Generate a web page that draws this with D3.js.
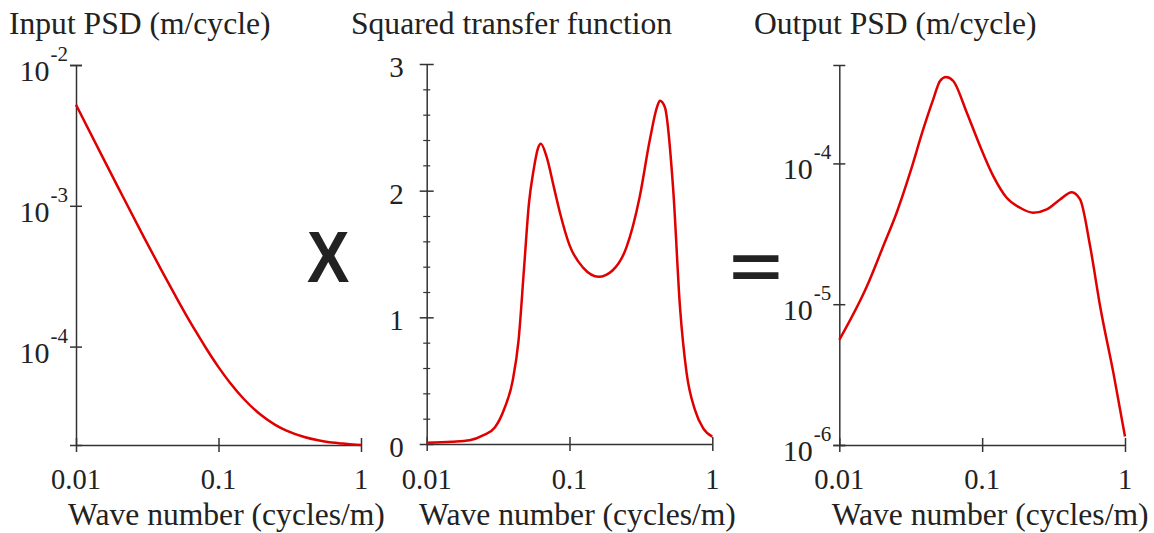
<!DOCTYPE html>
<html>
<head>
<meta charset="utf-8">
<script src="https://cdn.jsdelivr.net/npm/d3@7/dist/d3.min.js"></script>
<style>
  html, body { margin: 0; padding: 0; background: #fff; }
  svg { display: block; }
</style>
</head>
<body>
<svg id="chart" width="1154" height="533"></svg>
<script>
// Wave numbers (cycles/m) and values for each panel
const inputK   = [0.01, 0.015, 0.02, 0.03, 0.04, 0.05, 0.06, 0.07, 0.08, 0.1, 0.12, 0.15, 0.2, 0.25, 0.3, 0.4, 0.5, 0.6, 0.7, 0.8, 1.0];
const inputPsd = [5.22e-3, 2.33e-3, 1.32e-3, 5.97e-4, 3.45e-4, 2.28e-4, 1.64e-4, 1.26e-4, 1.01e-4, 7.15e-5, 5.56e-5, 4.26e-5, 3.25e-5, 2.78e-5, 2.53e-5, 2.28e-5, 2.16e-5, 2.09e-5, 2.06e-5, 2.03e-5, 2.0e-5];

const transferK   = [0.01, 0.015, 0.02, 0.025, 0.03, 0.035, 0.04, 0.044, 0.048, 0.052, 0.056, 0.06, 0.063, 0.069, 0.078, 0.086, 0.1, 0.125, 0.16, 0.2, 0.25, 0.31, 0.365, 0.41, 0.43, 0.465, 0.533, 0.594, 0.661, 0.756, 0.864, 1.0];
const transferVal = [0.01, 0.018, 0.03, 0.07, 0.13, 0.28, 0.5, 0.82, 1.38, 1.9, 2.16, 2.33, 2.37, 2.27, 2.02, 1.82, 1.57, 1.39, 1.32, 1.37, 1.55, 1.95, 2.4, 2.66, 2.71, 2.66, 2.0, 1.08, 0.56, 0.27, 0.124, 0.058];

const outputK   = [0.01, 0.0156, 0.0203, 0.0252, 0.0313, 0.0387, 0.0455, 0.0507, 0.0558, 0.0628, 0.078, 0.0966, 0.1197, 0.1485, 0.184, 0.228, 0.283, 0.351, 0.424, 0.485, 0.57, 0.67, 0.83, 1.0];
const outputPsd = [5.58e-6, 1.34e-5, 2.58e-5, 4.46e-5, 8.59e-5, 1.75e-4, 2.86e-4, 3.85e-4, 4.11e-4, 3.85e-4, 2.30e-4, 1.33e-4, 8.12e-5, 5.7e-5, 4.84e-5, 4.46e-5, 4.71e-5, 5.55e-5, 6.25e-5, 5.55e-5, 2.58e-5, 9.64e-6, 3.24e-6, 1.15e-6];

// Tick values and labels
const xTicks = [0.01, 0.1, 1];
const xTickLabels = ["0.01", "0.1", "1"];
const inputYTicks = [1e-2, 1e-3, 1e-4];
const inputYExponents = ["-2", "-3", "-4"];
const transferYTicks = [0, 1, 2, 3];
const transferYMinor = [0.2, 0.4, 0.6, 0.8, 1.2, 1.4, 1.6, 1.8, 2.2, 2.4, 2.6, 2.8];
const outputYTicks = [1e-4, 1e-5, 1e-6];
const outputYExponents = ["-4", "-5", "-6"];

const titles = ["Input PSD (m/cycle)", "Squared transfer function", "Output PSD (m/cycle)"];
const xAxisTitle = "Wave number (cycles/m)";

const SERIF = "'Liberation Serif', 'Times New Roman', 'DejaVu Serif', serif";
const SANS = "'Liberation Sans', Arial, sans-serif";
const TEXT_COLOR = "#222";
const AXIS_COLOR = "#333";
const LINE_COLOR = "#e00000";

const svg = d3.select("#chart");

const panels = [
  { x0: 76,    x1: 361,    y0: 445, y1: 65, type: "log", domain: [2e-5, 1e-2], k: inputK, v: inputPsd,
    ticks: inputYTicks, exps: inputYExponents, titleX: 9 },
  { x0: 426.7, x1: 712.3,  y0: 444, y1: 64, type: "lin", domain: [0, 3], k: transferK, v: transferVal,
    titleX: 351 },
  { x0: 839.3, x1: 1125,   y0: 445, y1: 65, type: "log", domain: [1e-6, 5e-4], k: outputK, v: outputPsd,
    ticks: outputYTicks, exps: outputYExponents, titleX: 754 }
];

function serifText(sel, size) {
  return sel.style("font-family", SERIF).attr("font-size", size).attr("fill", TEXT_COLOR);
}

panels.forEach((p, i) => {
  const x = d3.scaleLog().domain([0.01, 1]).range([p.x0, p.x1]);
  const y = (p.type === "log" ? d3.scaleLog() : d3.scaleLinear()).domain(p.domain).range([p.y0, p.y1]);

  const g = svg.append("g");

  // panel title
  serifText(g.append("text"), 31.6)
    .attr("x", p.titleX).attr("y", 34)
    .text(titles[i]);

  // x axis
  const xa = g.append("g")
    .attr("transform", `translate(0,${p.y0})`)
    .call(d3.axisBottom(x).tickValues(xTicks).tickFormat("").tickSizeOuter(0).tickSizeInner(7));
  xa.select(".domain").attr("stroke", AXIS_COLOR).attr("stroke-width", 1.5);
  xa.selectAll(".tick line").attr("y1", -7).attr("y2", 7).attr("stroke", AXIS_COLOR).attr("stroke-width", 1.5);

  serifText(g.selectAll(".xlab").data(xTicks).join("text"), 28.5)
    .attr("x", d => x(d)).attr("y", 489)
    .attr("text-anchor", "middle")
    .text((d, j) => xTickLabels[j]);

  serifText(g.append("text"), 31.6)
    .attr("x", (p.x0 + p.x1) / 2 + 8).attr("y", 525)
    .attr("text-anchor", "middle")
    .text(xAxisTitle);

  // y axis
  if (p.type === "log") {
    const yTickVals = [p.domain[0], ...p.ticks, p.domain[1]];
    const ya = g.append("g")
      .attr("transform", `translate(${p.x0},0)`)
      .call(d3.axisLeft(y).tickValues(yTickVals).tickFormat("").tickSizeOuter(0).tickSizeInner(6));
    ya.select(".domain").attr("stroke", AXIS_COLOR).attr("stroke-width", 1.5);
    ya.selectAll(".tick line").attr("x1", -6).attr("x2", 6).attr("stroke", AXIS_COLOR).attr("stroke-width", 1.5);

    const labs = serifText(g.selectAll(".ylab").data(p.ticks).join("text"), 30)
      .attr("x", p.x0 - 8).attr("y", d => y(d) + 16)
      .attr("text-anchor", "end");
    labs.append("tspan").text("10");
    labs.append("tspan")
      .attr("font-size", 21)
      .attr("dx", 1)
      .attr("dy", -20)
      .text((d, j) => p.exps[j]);
  } else {
    const ya = g.append("g")
      .attr("transform", `translate(${p.x0},0)`)
      .call(d3.axisLeft(y).tickValues(transferYTicks).tickFormat("").tickSizeOuter(0).tickSizeInner(7));
    ya.select(".domain").attr("stroke", AXIS_COLOR).attr("stroke-width", 1.5);
    ya.selectAll(".tick line").attr("x1", -7).attr("x2", 7).attr("stroke", AXIS_COLOR).attr("stroke-width", 1.5);

    const minor = g.append("g")
      .attr("transform", `translate(${p.x0},0)`)
      .call(d3.axisLeft(y).tickValues(transferYMinor).tickFormat("").tickSizeOuter(0).tickSizeInner(4));
    minor.select(".domain").remove();
    minor.selectAll(".tick line").attr("x1", -3.5).attr("x2", 3.5).attr("stroke", AXIS_COLOR).attr("stroke-width", 1.2);

    serifText(g.selectAll(".ylab").data(transferYTicks).join("text"), 29)
      .attr("x", p.x0 - 23).attr("y", d => y(d) + 13)
      .attr("text-anchor", "end")
      .text(d => d);
  }

  // curve
  const pts = p.k.map((k, j) => [x(k), y(p.v[j])]);
  g.append("path")
    .attr("d", d3.line().curve(d3.curveMonotoneX)(pts))
    .attr("fill", "none")
    .attr("stroke", LINE_COLOR)
    .attr("stroke-width", 2.5)
    .attr("stroke-linejoin", "round");
});

// Operators between panels: the glyph's ink box is measured and the text is
// scaled so that the ink fills the given box.
const measureCtx = document.createElement("canvas").getContext("2d");
function operator(label, box, weight) {
  const size = 100;
  measureCtx.font = `${weight} ${size}px 'Liberation Sans', Arial, sans-serif`;
  const m = measureCtx.measureText(label);
  const inkW = m.actualBoundingBoxLeft + m.actualBoundingBoxRight;
  const inkH = m.actualBoundingBoxAscent + m.actualBoundingBoxDescent;
  const sx = (box.x1 - box.x0) / inkW;
  const sy = (box.y1 - box.y0) / inkH;
  svg.append("text")
    .attr("transform", `translate(${box.x0},${box.y0}) scale(${sx},${sy}) translate(${m.actualBoundingBoxLeft},${m.actualBoundingBoxAscent})`)
    .style("font-family", SANS)
    .style("font-weight", weight)
    .attr("font-size", size)
    .attr("fill", TEXT_COLOR)
    .text(label);
}
operator("X", { x0: 307, x1: 349, y0: 232, y1: 282 }, "bold");
operator("=", { x0: 733, x1: 779, y0: 255, y1: 279 }, "bold");
</script>
</body>
</html>
